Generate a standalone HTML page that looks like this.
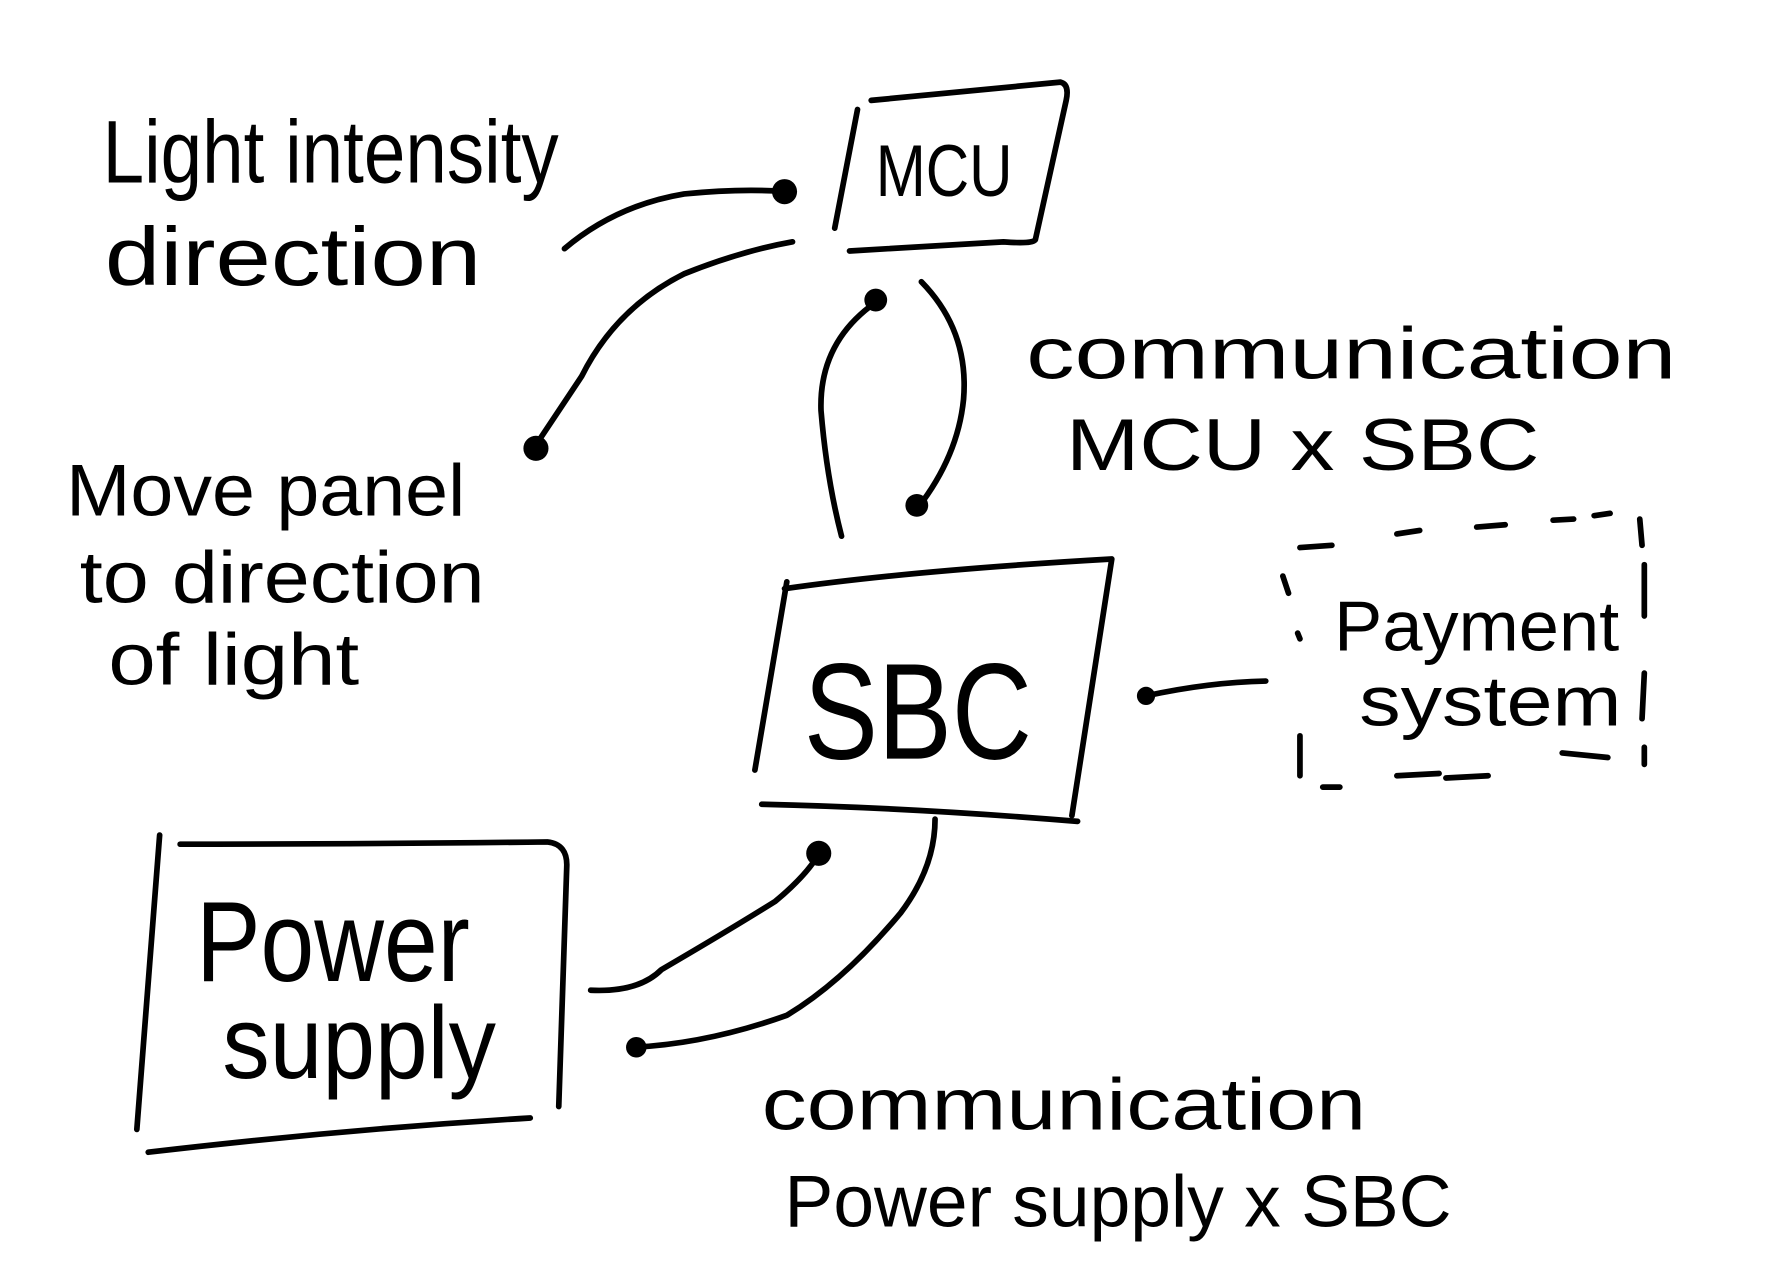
<!DOCTYPE html>
<html><head><meta charset="utf-8"><style>
html,body{margin:0;padding:0;background:#fff;}
svg{display:block}
text{font-family:"Liberation Sans",sans-serif;fill:#000;font-weight:normal}
</style></head><body>
<svg width="1788" height="1272" viewBox="0 0 1568 1115" preserveAspectRatio="none" xmlns="http://www.w3.org/2000/svg">
<rect width="1568" height="1115" fill="#fff"/>
<g fill="none" stroke="#000" stroke-width="5" stroke-linecap="round" stroke-linejoin="round">
<path d="M752 96 L732 200"/>
<path d="M764 88 Q850 80 930 72 Q938 74 935 88 L908 210 Q906 214 880 212 L745 220"/>
<path d="M690 510 L662 675"/>
<path d="M688 516 Q800 500 975 490 L940 715"/>
<path d="M668 705 Q800 708 945 720"/>
<path d="M140 732 L120 990"/>
<path d="M158 740 Q300 740 480 738 Q498 740 497 760 L490 970"/>
<path d="M130 1010 Q300 990 465 980"/>
<path d="M1140 480 L1168 478 M1225 468 L1245 465 M1295 462 L1320 460 M1362 456 L1380 455 M1398 452 L1412 450" />
<path d="M1438 455 L1440 478 M1442 495 L1442 540 M1442 590 L1440 630 M1442 655 L1442 670"/>
<path d="M1125 505 L1130 520 M1138 555 L1140 560 M1140 645 L1140 680"/>
<path d="M1160 690 L1175 690 M1225 680 L1262 678 M1268 682 L1305 680 M1370 660 L1410 664"/>
<path d="M495 218 Q540 180 600 170 Q650 165 690 168"/>
<path d="M695 212 Q650 220 600 240 Q540 270 510 330 Q490 360 470 390"/>
<path d="M738 470 Q725 420 720 360 Q718 300 768 265"/>
<path d="M808 247 Q850 290 845 350 Q840 400 805 445"/>
<path d="M1110 597 Q1060 598 1005 610"/>
<path d="M518 868 Q560 870 580 850 Q640 815 680 790 Q710 765 720 745"/>
<path d="M820 718 Q820 760 790 800 Q740 860 690 890 Q620 915 555 918"/>
</g>
<g fill="#000">
<circle cx="688" cy="168" r="11"/>
<circle cx="470" cy="393" r="11"/>
<circle cx="768" cy="263" r="10"/>
<circle cx="804" cy="443" r="10"/>
<circle cx="1005" cy="610" r="8"/>
<circle cx="718" cy="748" r="11"/>
<circle cx="558" cy="918" r="9"/>
</g>
<text x="90" y="160" font-size="78" textLength="400" lengthAdjust="spacingAndGlyphs">Light intensity</text>
<text x="92" y="250" font-size="72" textLength="330" lengthAdjust="spacingAndGlyphs">direction</text>
<text x="768" y="172" font-size="64" textLength="120" lengthAdjust="spacingAndGlyphs">MCU</text>
<text x="900" y="332" font-size="64" textLength="570" lengthAdjust="spacingAndGlyphs">communication</text>
<text x="935" y="412" font-size="64" textLength="415" lengthAdjust="spacingAndGlyphs">MCU x SBC</text>
<text x="58" y="452" font-size="64" textLength="350" lengthAdjust="spacingAndGlyphs">Move panel</text>
<text x="70" y="528" font-size="64" textLength="355" lengthAdjust="spacingAndGlyphs">to direction</text>
<text x="95" y="600" font-size="64" textLength="220" lengthAdjust="spacingAndGlyphs">of light</text>
<text x="705" y="665" font-size="120" textLength="200" lengthAdjust="spacingAndGlyphs">SBC</text>
<text x="1170" y="570" font-size="62" textLength="250" lengthAdjust="spacingAndGlyphs">Payment</text>
<text x="1192" y="636" font-size="62" textLength="230" lengthAdjust="spacingAndGlyphs">system</text>
<text x="172" y="860" font-size="100" textLength="240" lengthAdjust="spacingAndGlyphs">Power</text>
<text x="195" y="945" font-size="90" textLength="240" lengthAdjust="spacingAndGlyphs">supply</text>
<text x="668" y="990" font-size="64" textLength="530" lengthAdjust="spacingAndGlyphs">communication</text>
<text x="688" y="1075" font-size="64" textLength="585" lengthAdjust="spacingAndGlyphs">Power supply x SBC</text>
</svg>
</body></html>
